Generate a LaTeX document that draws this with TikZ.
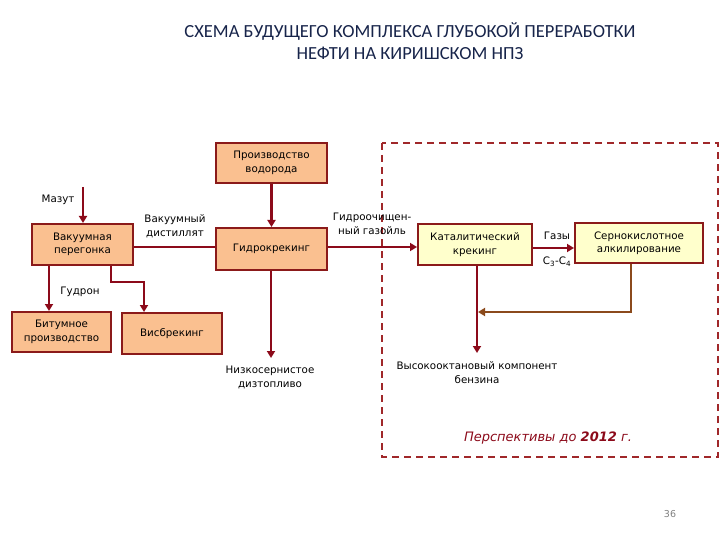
\documentclass[tikz,border=0pt]{standalone}
\usepackage{fontspec}
\setmainfont{DejaVu Sans}
\newfontfamily\titlefont{Carlito}
\usetikzlibrary{arrows.meta}
\definecolor{boxfill}{HTML}{FAC090}
\definecolor{yelfill}{HTML}{FFFFCC}
\definecolor{darkred}{HTML}{8B1A1A}
\definecolor{arrred}{HTML}{8C0A1A}
\definecolor{brownln}{HTML}{8B4A1C}
\definecolor{titleblue}{HTML}{17244A}
\definecolor{dashred}{HTML}{A0282A}
\begin{document}
\begin{tikzpicture}[x=1pt,y=-1pt,
  procbox/.style={draw=darkred,line width=2pt,fill=boxfill,align=center,
    font=\fontsize{10.3}{13.5}\selectfont,inner sep=1pt},
  newbox/.style={procbox,fill=yelfill},
  flow/.style={draw=arrred,line width=2.6pt,-{Triangle[length=7pt,width=8pt]}},
  flowline/.style={draw=arrred,line width=2.6pt},
  lbl/.style={font=\fontsize{10.3}{14}\selectfont,align=center,inner sep=0pt}]
\useasboundingbox (0,0) rectangle (720,540);
% title
\node[font=\titlefont\fontsize{18.5}{22.5}\selectfont,text=titleblue,align=center] (title) at (410,41)
  {СХЕМА БУДУЩЕГО КОМПЛЕКСА ГЛУБОКОЙ ПЕРЕРАБОТКИ\\НЕФТИ НА КИРИШСКОМ НПЗ};
% dashed perspective area
\draw[dashred,line width=1.8pt,dash pattern=on 7pt off 5pt] (382,143) rectangle (718,457);
% boxes
\node[procbox,minimum width=111pt,minimum height=40pt] (hyd) at (271.5,163) {Производство\\водорода};
\node[procbox,minimum width=101pt,minimum height=41pt] (vac) at (82.5,244.5) {Вакуумная\\перегонка};
\node[procbox,minimum width=111pt,minimum height=42pt] (hc) at (271.5,249) {Гидрокрекинг};
\node[newbox,minimum width=114pt,minimum height=41pt] (cat) at (475,244.5) {Каталитический\\крекинг};
\node[newbox,minimum width=128pt,minimum height=40pt] (alk) at (639,243) {Сернокислотное\\алкилирование};
\node[procbox,minimum width=99pt,minimum height=40pt] (bit) at (61.5,332) {Битумное\\производство};
\node[procbox,minimum width=100pt,minimum height=41pt] (vis) at (172,333.5) {Висбрекинг};
% labels
\node[lbl] (mazut) at (58,200) {Мазут};
\node[lbl] (vdist) at (175,226) {Вакуумный\\дистиллят};
\node[lbl] (gasoil) at (372,224) {Гидроочищен-\\ный газойль};
\node[lbl] (gases) at (557,236) {Газы};
\node[lbl] (c34) at (557,262) {C\textsubscript{3}-C\textsubscript{4}};
\node[lbl] (gudron) at (80,292) {Гудрон};
\node[lbl] (diesel) at (270,377) {Низкосернистое\\дизтопливо};
\node[lbl] (petrol) at (477,373) {Высокооктановый компонент\\бензина};
\node[font=\fontsize{13}{15}\selectfont\itshape,text=arrred] (persp) at (548,438) {Перспективы до \textbf{2012} г.};
\node[font=\fontsize{9.5}{11}\selectfont,text=gray] (page) at (670,514) {36};
% connectors
\coordinate (mtop) at (83,187);
\draw[flow] (mtop) -- (vac.north -| mtop);
\draw[flowline] (vac.east |- 0,247) -- (hc.west |- 0,247);
\draw[flow] (hyd.south) -- (hc.north);
\draw[flow] (hc.east |- 0,247) -- (cat.west |- 0,247);
\draw[flow] (cat.east |- 0,248) -- (alk.west |- 0,248);
\draw[flow] (vac.south -| 49,0) -- (bit.north -| 49,0);
\coordinate (vb1) at (111,282);
\coordinate (vb2) at (144,282);
\draw[flow] (vac.south -| vb1) -- (vb1) -- (vb2) -- (vis.north -| vb2);
\coordinate (dz) at (271,358);
\draw[flow] (hc.south -| dz) -- (dz);
\coordinate (bz) at (477,353);
\draw[flow] (cat.south -| bz) -- (bz);
\coordinate (ak1) at (631,312);
\coordinate (ak2) at (478,312);
\draw[draw=brownln,line width=2pt,-{Triangle[length=7pt,width=8pt]}] (alk.south -| ak1) -- (ak1) -- (ak2);
\end{tikzpicture}
\end{document}
